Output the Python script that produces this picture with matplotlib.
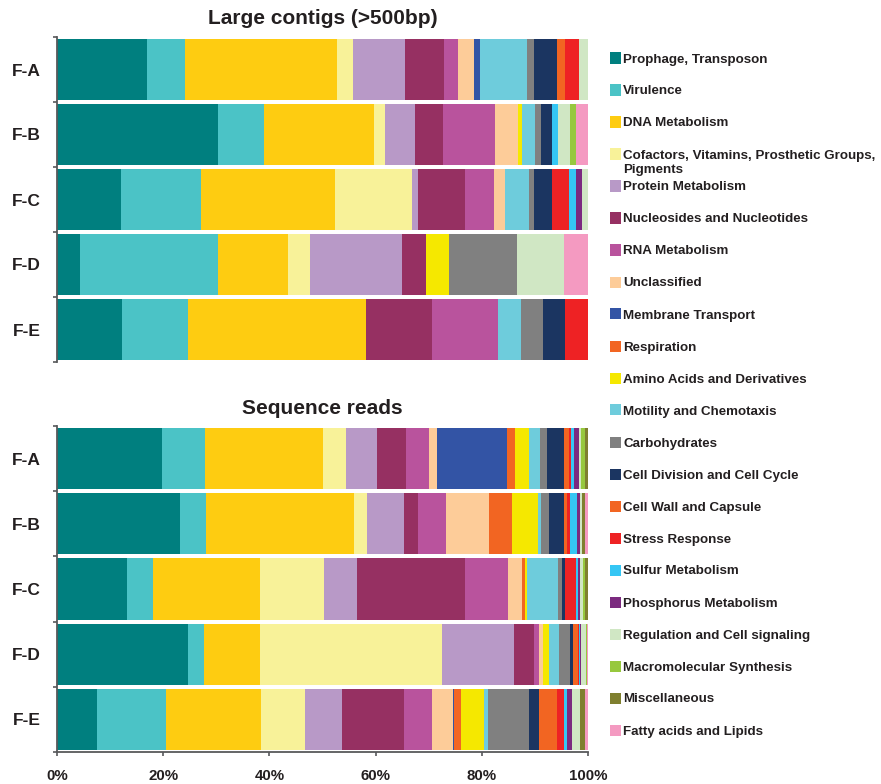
import numpy as np
import matplotlib
matplotlib.use("Agg")
from matplotlib import pyplot as plt
from matplotlib.patches import Rectangle

plt.rcParams['font.family'] = ['Liberation Sans', 'DejaVu Sans']
plt.rcParams['font.weight'] = 'bold'

samples = ["F-A", "F-B", "F-C", "F-D", "F-E"]

categories = [
    "Prophage, Transposon", "Virulence", "DNA Metabolism",
    "Cofactors, Vitamins, Prosthetic Groups,\nPigments", "Protein Metabolism",
    "Nucleosides and Nucleotides", "RNA Metabolism", "Unclassified",
    "Membrane Transport", "Respiration", "Amino Acids and Derivatives",
    "Motility and Chemotaxis", "Carbohydrates", "Cell Division and Cell Cycle",
    "Cell Wall and Capsule", "Stress Response", "Sulfur Metabolism",
    "Phosphorus Metabolism", "Regulation and Cell signaling",
    "Macromolecular Synthesis", "Miscellaneous", "Fatty acids and Lipids",
]

colors = [
    "#007f7f", "#4bc3c6", "#fecc11", "#f8f299", "#b899c7", "#963062",
    "#b9539d", "#fdcc99", "#3354a5", "#f26522", "#f5e800", "#6eccdc",
    "#808080", "#1b3561", "#f26522", "#ee2224", "#35c6f4", "#7b2a7f",
    "#d0e7c4", "#97c83e", "#7f7f2f", "#f49ac1",
]

# percent of subsystems, one list per sample, same order as categories
contigs_fa = [17.0, 7.1, 28.5, 3.0, 9.8, 7.4, 2.6, 3.0, 1.2, 0, 0, 8.9, 1.3, 4.3, 1.5, 2.7, 0, 0, 1.6, 0, 0, 0]
contigs_fb = [30.3, 8.7, 20.8, 2.1, 5.6, 5.3, 9.8, 4.3, 0, 0, 0.9, 2.4, 1.1, 2.1, 0, 0, 1.2, 0, 2.2, 1.2, 0, 2.2]
contigs_fc = [12.0, 15.2, 25.3, 14.4, 1.2, 8.9, 5.4, 2.1, 0, 0, 0, 4.5, 0.9, 3.4, 0, 3.2, 1.4, 1.1, 1.1, 0, 0, 0]
contigs_fd = [4.4, 25.8, 13.2, 4.2, 17.3, 4.5, 0, 0, 0, 0, 4.3, 0, 12.8, 0, 0, 0, 0, 0, 8.9, 0, 0, 4.5]
contigs_fe = [12.3, 12.4, 33.4, 0, 0, 12.4, 12.5, 0, 0, 0, 0, 4.3, 4.1, 4.2, 0, 4.3, 0, 0, 0, 0, 0, 0]

reads_fa = [19.7, 8.1, 22.2, 4.4, 5.8, 5.6, 4.3, 1.5, 13.2, 1.5, 2.6, 2.1, 1.3, 3.2, 0.9, 0.4, 0.5, 1.0, 0.3, 0.8, 0.6, 0]
reads_fb = [23.2, 4.9, 27.8, 2.4, 7.0, 2.7, 5.3, 8.1, 0, 4.2, 4.9, 0.7, 1.5, 2.7, 0.7, 0.6, 1.3, 0.4, 0.4, 0, 0.6, 0.6]
reads_fc = [13.1, 4.9, 20.2, 12.1, 6.2, 20.2, 8.1, 2.7, 0, 0.6, 0.4, 5.7, 0.9, 0.4, 0, 2.1, 0.4, 0.4, 0.5, 0.5, 0.5, 0]
reads_fd = [24.6, 3.0, 10.5, 34.2, 13.6, 3.8, 0.8, 0.9, 0, 0, 1.0, 2.0, 2.0, 0.6, 0.9, 0.2, 0.2, 0.2, 0.9, 0.2, 0, 0.2]
reads_fe = [7.6, 13.0, 17.8, 8.3, 7.0, 11.7, 5.3, 4.0, 0.2, 1.2, 4.4, 0.8, 7.7, 1.9, 3.4, 1.2, 0.7, 0.8, 1.5, 0, 1.1, 0.5]

x_ticks = [0, 20, 40, 60, 80, 100]

TEXT = "#231f20"
SPINE = "#58595b"
W, H = 881, 784


def stacked(ax, rows, title, show_x):
    data = np.array(rows, dtype=float)
    data = data / data.sum(axis=1, keepdims=True) * 100
    y = np.arange(len(samples))
    left = np.zeros(len(samples))
    for k in range(len(categories)):
        ax.barh(y, data[:, k], left=left, height=0.94, color=colors[k], linewidth=0)
        left += data[:, k]

    ax.set_xlim(0, 100)
    ax.set_ylim(len(samples) - 0.5, -0.5)
    ax.set_yticks(y)
    ax.set_yticklabels(samples, fontsize=12.5, fontweight='bold', color=TEXT)
    ax.set_yticks(np.arange(len(samples) + 1) - 0.5, minor=True)
    ax.tick_params(axis='y', which='major', length=0, pad=11.5)
    ax.tick_params(axis='y', which='minor', length=3, width=1.2, color=SPINE, direction='out')

    for s in ['top', 'right']:
        ax.spines[s].set_visible(False)
    ax.spines['left'].set_color(SPINE)
    ax.spines['left'].set_linewidth(1.3)

    if show_x:
        ax.set_xticks(x_ticks)
        ax.set_xticklabels([str(t) + "%" for t in x_ticks], fontsize=10.8, fontweight='bold', color=TEXT)
        ax.tick_params(axis='x', length=3, width=1.2, color=SPINE, pad=9.5)
        ax.spines['bottom'].set_color(SPINE)
        ax.spines['bottom'].set_linewidth(1.3)
    else:
        ax.set_xticks([])
        ax.spines['bottom'].set_visible(False)

    ax.set_title(title, fontsize=15, fontweight='bold', color=TEXT, pad=9)


def legend(fig):
    # hand made legend, one row every 32 px, wrapped labels run into the gap below
    for i, name in enumerate(categories):
        yc = 58 + 32 * i
        fig.patches.append(Rectangle((610 / W, 1 - (yc + 5.5) / H), 11 / W, 11 / H,
                                     transform=fig.transFigure, color=colors[i], linewidth=0))
        for j, line in enumerate(name.split("\n")):
            fig.text(623 / W, 1 - (yc + 15 * j) / H, line, fontsize=9.6, fontweight='bold',
                     color=TEXT, va='center_baseline', ha='left')


def main():
    fig = plt.figure(figsize=(W / 100, H / 100), dpi=100)

    ax_top = fig.add_axes([57 / W, 1 - 362 / H, 531 / W, 325 / H])
    stacked(ax_top, [contigs_fa, contigs_fb, contigs_fc, contigs_fd, contigs_fe],
            "Large contigs (>500bp)", False)

    ax_bot = fig.add_axes([57 / W, 1 - 752 / H, 531 / W, 326 / H])
    stacked(ax_bot, [reads_fa, reads_fb, reads_fc, reads_fd, reads_fe],
            "Sequence reads", True)

    legend(fig)

    fig.savefig("out.png", dpi=100)


if __name__ == '__main__': main()
